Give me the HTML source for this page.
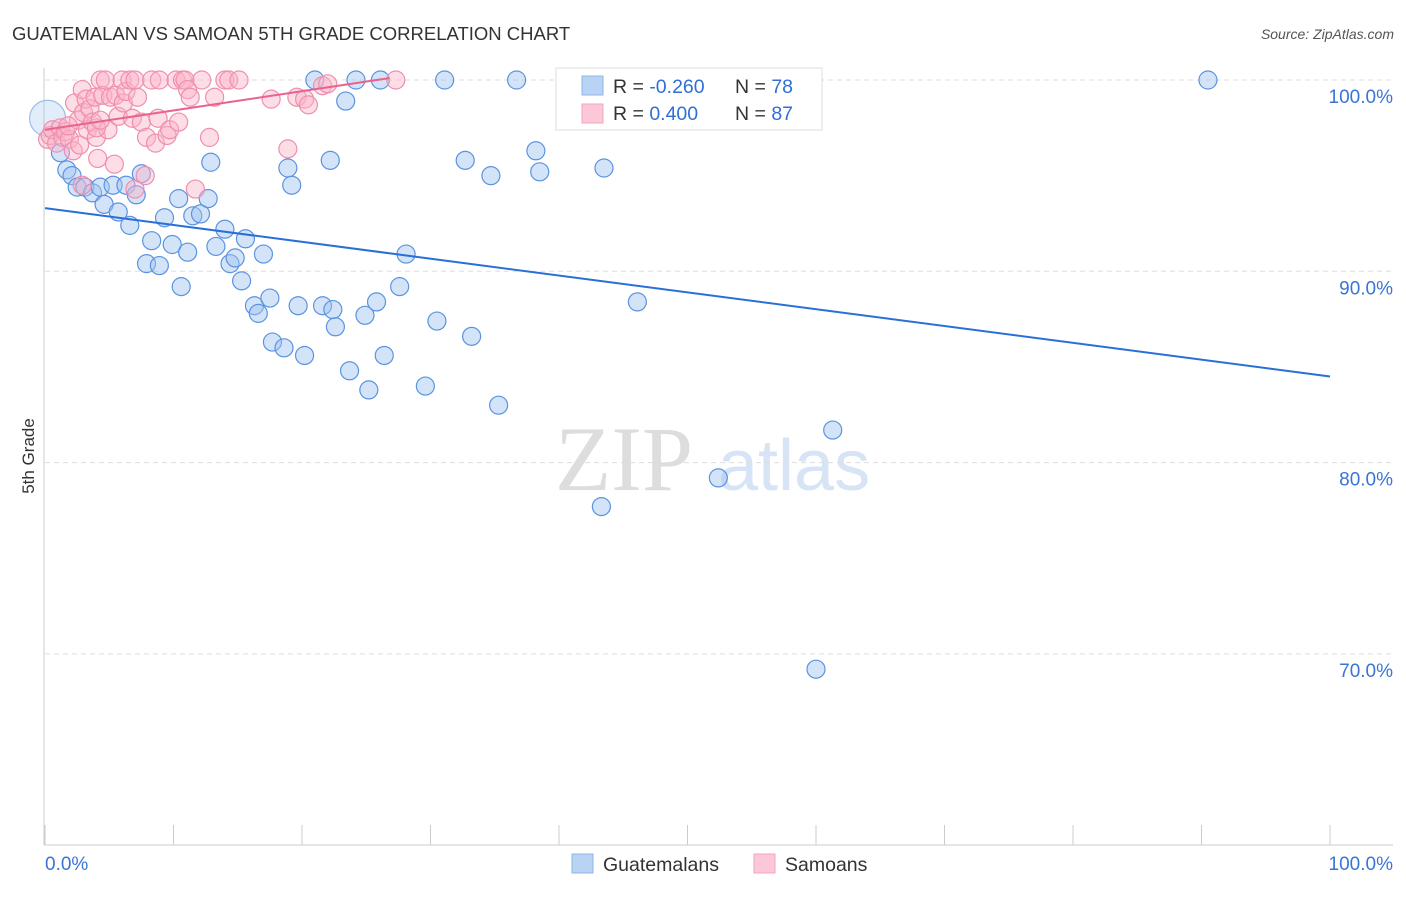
<!DOCTYPE html>
<html><head><meta charset="utf-8"><style>
body{margin:0;background:#fff;}
svg text{font-family:"Liberation Sans",sans-serif;}
</style></head><body>
<svg id="chart" width="1406" height="892" xmlns="http://www.w3.org/2000/svg">
<text x="12" y="40" font-size="18.5" fill="#333">GUATEMALAN VS SAMOAN 5TH GRADE CORRELATION CHART</text>
<text x="1394" y="39" font-size="14" fill="#555" font-style="italic" text-anchor="end">Source: ZipAtlas.com</text>
<g>
<text x="555" y="490" font-size="92" fill="#ddd" style="font-family:'Liberation Serif',serif">ZIP</text>
<text x="718" y="490" font-size="72" fill="#d6e4f5">atlas</text>
</g>
<g id="grid"></g>
<g id="axes"></g>
<g id="pts"></g>
<g id="trends"></g>
<text x="34" y="456" font-size="17" fill="#333" transform="rotate(-90 34 456)" text-anchor="middle">5th Grade</text>
<g>
<rect x="556" y="68" width="266" height="62" fill="#fff" stroke="#ddd"/>
<rect x="582" y="76" width="21" height="19" fill="#b9d3f5" stroke="#8fb6ea"/>
<rect x="582" y="104" width="21" height="19" fill="#fcc8d8" stroke="#f3a4bd"/>
<text x="613" y="93" font-size="19.5" fill="#333">R = <tspan fill="#2f6fd6">-0.260</tspan></text>
<text x="735" y="93" font-size="19.5" fill="#333">N = <tspan fill="#2f6fd6">78</tspan></text>
<text x="613" y="120" font-size="19.5" fill="#333">R = <tspan fill="#2f6fd6"> 0.400</tspan></text>
<text x="735" y="120" font-size="19.5" fill="#333">N = <tspan fill="#2f6fd6">87</tspan></text>
</g>
<g>
<rect x="572" y="854" width="21" height="19" fill="#b9d3f5" stroke="#8fb6ea"/>
<text x="603" y="871" font-size="19.5" fill="#333">Guatemalans</text>
<rect x="754" y="854" width="21" height="19" fill="#fcc8d8" stroke="#f3a4bd"/>
<text x="785" y="871" font-size="19.5" fill="#333">Samoans</text>
</g>
</svg>
<script>
const yTicks=[100,90,80,70];
const yTickLabels=["100.0%","90.0%","80.0%","70.0%"];
const xTicks=[0,10,20,30,40,50,60,70,80,90,100];
const xEndLabels=["0.0%","100.0%"];
const guatX=[0.2,1.2,1.7,2.1,2.5,3.1,3.7,4.3,4.6,5.3,5.7,6.3,6.6,7.1,7.5,8.3,7.9,8.9,9.3,9.9,10.4,10.6,11.1,11.5,12.1,12.7,12.9,13.3,14.0,14.4,14.8,15.3,15.6,16.3,16.6,17.0,17.5,17.7,18.6,18.9,19.2,19.7,20.2,21.0,21.6,22.2,22.4,22.6,23.4,23.7,24.2,24.9,25.2,25.8,26.1,26.4,27.6,28.1,29.6,30.5,31.1,32.7,33.2,34.7,35.3,36.7,38.2,38.5,43.3,43.5,46.1,52.4,58.6,60.0,61.3,90.5];
const guatY=[98.0,96.2,95.3,95.0,94.4,94.4,94.1,94.4,93.5,94.5,93.1,94.5,92.4,94.0,95.1,91.6,90.4,90.3,92.8,91.4,93.8,89.2,91.0,92.9,93.0,93.8,95.7,91.3,92.2,90.4,90.7,89.5,91.7,88.2,87.8,90.9,88.6,86.3,86.0,95.4,94.5,88.2,85.6,100,88.2,95.8,88.0,87.1,98.9,84.8,100,87.7,83.8,88.4,100,85.6,89.2,90.9,84.0,87.4,100,95.8,86.6,95.0,83.0,100,96.3,95.2,77.7,95.4,88.4,79.2,100,69.2,81.7,100];
const samX=[0.2,0.4,0.6,0.9,1.2,1.4,1.6,1.9,2.2,2.3,2.6,2.7,2.9,3.0,3.2,3.3,3.5,3.7,3.9,4.0,4.1,4.3,4.5,4.7,4.9,5.1,5.4,5.5,5.7,6.0,6.1,6.3,6.6,6.8,7.0,7.2,7.5,7.8,7.9,8.3,8.6,8.8,8.9,9.5,9.7,10.2,10.4,10.7,10.9,11.1,11.3,11.7,12.2,12.8,13.2,14.0,14.3,15.1,17.6,18.9,19.6,20.2,20.5,21.6,22.0,27.3,7.0,2.9,4.0,1.8,4.3];
const samY=[96.9,97.1,97.4,96.7,97.5,97.0,97.3,96.9,96.3,98.8,97.9,96.6,99.5,98.3,99.0,97.4,98.5,97.8,99.1,97.0,95.9,100,99.2,100,97.4,99.1,95.6,99.2,98.1,100,98.8,99.4,100,98.0,100,99.1,97.8,95.0,97.0,100,96.7,98.0,100,97.1,97.4,100,97.8,100,100,99.5,99.1,94.3,100,97.0,99.1,100,100,100,99.0,96.4,99.1,99.0,98.7,99.7,99.8,100,94.3,94.5,97.5,97.6,97.9];
const guatTrend=[[0,93.3],[100,84.5]];
const samTrend=[[0,97.4],[26.8,100.1]];
const NS="http://www.w3.org/2000/svg";
const sx=v=>45+v*12.85, sy=v=>80+(100-v)*19.13;
function mk(tag,attrs,parent){const e=document.createElementNS(NS,tag);for(const k in attrs)e.setAttribute(k,attrs[k]);document.getElementById(parent).appendChild(e);return e;}
yTicks.forEach((t,i)=>{
 const l=mk('line',{x1:45,x2:1393,y1:sy(t),y2:sy(t),stroke:'#ddd','stroke-dasharray':'5,4'},'grid');
 
 
 const tx=mk('text',{x:1393,y:sy(t)+23,'font-size':19,fill:'#3a75d4','text-anchor':'end'},'grid');
 tx.textContent=yTickLabels[i];
 
 
});
let a=mk('line',{x1:44,x2:44,y1:68,y2:845,stroke:'#ccc'},'axes');


a=mk('line',{x1:44,x2:1393,y1:845,y2:845,stroke:'#ccc'},'axes');


xTicks.forEach(t=>{const l=mk('line',{x1:sx(t),x2:sx(t),y1:825,y2:845,stroke:'#ccc'},'axes');
 
 });
[[0,'start'],[100,'end']].forEach((p,i)=>{const t=mk('text',{x:sx(p[0])+(i?63:0),y:870,'font-size':19,fill:'#3a75d4','text-anchor':p[1]},'axes');t.textContent=xEndLabels[i];
 
 });
guatX.forEach((x,i)=>{const c=mk('circle',{cx:sx(x),cy:sy(guatY[i]),r:i===0?18:9,fill:i===0?'rgba(160,196,240,0.3)':'rgba(160,196,240,0.45)',stroke:i===0?'#9dbde9':'#5b93e0','stroke-width':1.2},'pts');
 
 });
samX.forEach((x,i)=>{const c=mk('circle',{cx:sx(x),cy:sy(samY[i]),r:9,fill:'rgba(250,180,200,0.45)',stroke:'#ef8fae','stroke-width':1.2},'pts');
 
 });
let tl=mk('line',{x1:sx(guatTrend[0][0]),y1:sy(guatTrend[0][1]),x2:sx(guatTrend[1][0]),y2:sy(guatTrend[1][1]),stroke:'#2a6fd8','stroke-width':2},'trends');


tl=mk('line',{x1:sx(samTrend[0][0]),y1:sy(samTrend[0][1]),x2:sx(samTrend[1][0]),y2:sy(samTrend[1][1]),stroke:'#e8648f','stroke-width':2},'trends');


</script>
</body></html>
